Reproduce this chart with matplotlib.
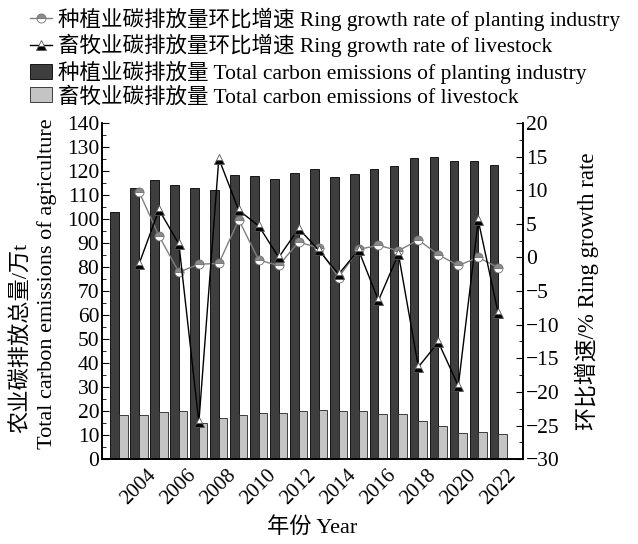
import matplotlib
matplotlib.use("Agg")
import matplotlib.pyplot as plt
from matplotlib.ticker import MultipleLocator

plt.rcParams['font.family'] = ['Liberation Serif', 'Noto Sans CJK SC']
plt.rcParams['axes.unicode_minus'] = True

years = list(range(2003, 2023))
# 碳排放总量 (万t)
planting = [103.0, 113.0, 116.4, 114.0, 112.9, 111.9, 118.5, 118.1, 116.7, 119.2,
            120.8, 117.4, 118.8, 121.0, 122.2, 125.4, 126.0, 124.3, 124.3, 122.6]
livestock = [18.5, 18.2, 19.6, 19.9, 15.0, 17.1, 18.3, 19.2, 19.2, 20.0,
             20.4, 19.9, 19.9, 18.8, 18.8, 15.7, 13.6, 10.8, 11.5, 10.6]
# 环比增速 (%), from 2004
rate_years = years[1:]
planting_rate = [9.8, 3.2, -2.2, -1.0, -0.9, 5.6, -0.4, -1.2, 2.3, 1.4,
                 -3.0, 1.2, 1.8, 1.0, 2.6, 0.4, -1.2, 0.0, -1.5]
livestock_rate = [-1.0, 7.1, 2.0, -24.5, 14.7, 7.0, 4.7, 0.0, 4.3, 1.1,
                  -2.5, 1.1, -6.4, 0.5, -16.3, -12.6, -19.1, 5.5, -8.3]

fig = plt.figure(figsize=(6.38, 5.44), dpi=100)
ax = fig.add_axes([0.16, 0.156, 0.66, 0.618])
ax2 = ax.twinx()

w = 0.43
b1 = ax.bar([y - w for y in years], planting, width=w, align='edge',
            color='#3e3e3e', edgecolor='black', linewidth=0.6,
            label='种植业碳排放量 Total carbon emissions of planting industry')
b2 = ax.bar(years, livestock, width=w, align='edge',
            color='#c4c4c4', edgecolor='#222222', linewidth=0.6,
            label='畜牧业碳排放量 Total carbon emissions of livestock')

l1, = ax2.plot(rate_years, planting_rate, color='#808080', lw=1.0,
               marker='o', ms=6.5, fillstyle='top', markerfacecolor='#8a8a8a',
               markerfacecoloralt='white', markeredgecolor='#707070', markeredgewidth=0.6,
               label='种植业碳排放量环比增速 Ring growth rate of planting industry')
l2, = ax2.plot(rate_years, livestock_rate, color='black', lw=1.0,
               marker='^', ms=7, fillstyle='bottom', markerfacecolor='black',
               markerfacecoloralt='white', markeredgecolor='#555555', markeredgewidth=0.6,
               label='畜牧业碳排放量环比增速 Ring growth rate of livestock')

ax.set_xlim(2002.15, 2023.25)
ax.set_ylim(0, 140)
ax2.set_ylim(-30, 20)
ax.yaxis.set_major_locator(MultipleLocator(10))
ax.yaxis.set_minor_locator(MultipleLocator(5))
ax2.yaxis.set_major_locator(MultipleLocator(5))
ax2.yaxis.set_minor_locator(MultipleLocator(2.5))

ax.set_xticks(list(range(2004, 2023, 2)))
ax.set_xticklabels([str(y) for y in range(2004, 2023, 2)], rotation=45, ha='center',
                   fontsize=15)
ax.tick_params(axis='x', length=0, pad=5)
ax.tick_params(axis='y', which='major', direction='in', length=5, labelsize=15.5, pad=2)
ax.tick_params(axis='y', which='minor', direction='in', length=3)
ax2.tick_params(axis='y', which='major', direction='in', length=5, labelsize=15.5, pad=2)
ax2.tick_params(axis='y', which='minor', direction='in', length=3)

for a in (ax, ax2):
    a.spines['top'].set_visible(False)
    for s in a.spines.values():
        s.set_linewidth(1.2)

# left axis title in two separate lines
fig.text(21 / 638, 1 - 338 / 544, '农业碳排放总量/万t', rotation=90,
         ha='center', va='center', fontsize=16)
fig.text(47 / 638, 1 - 284 / 544, 'Total carbon emissions of agriculture', rotation=90,
         ha='center', va='center', fontsize=16)
ax2.set_ylabel('环比增速/% Ring growth rate', fontsize=16.5, labelpad=11)
ax.set_xlabel('年份 Year', fontsize=16, labelpad=6)

fig.legend(handles=[l1, l2, b1, b2], loc='upper left', bbox_to_anchor=(0.027, 1.01),
           frameon=False, fontsize=15.5, handlelength=1.0, handletextpad=0.3,
           labelspacing=0.15, borderaxespad=0.2)

fig.savefig('out.png', dpi=100)
